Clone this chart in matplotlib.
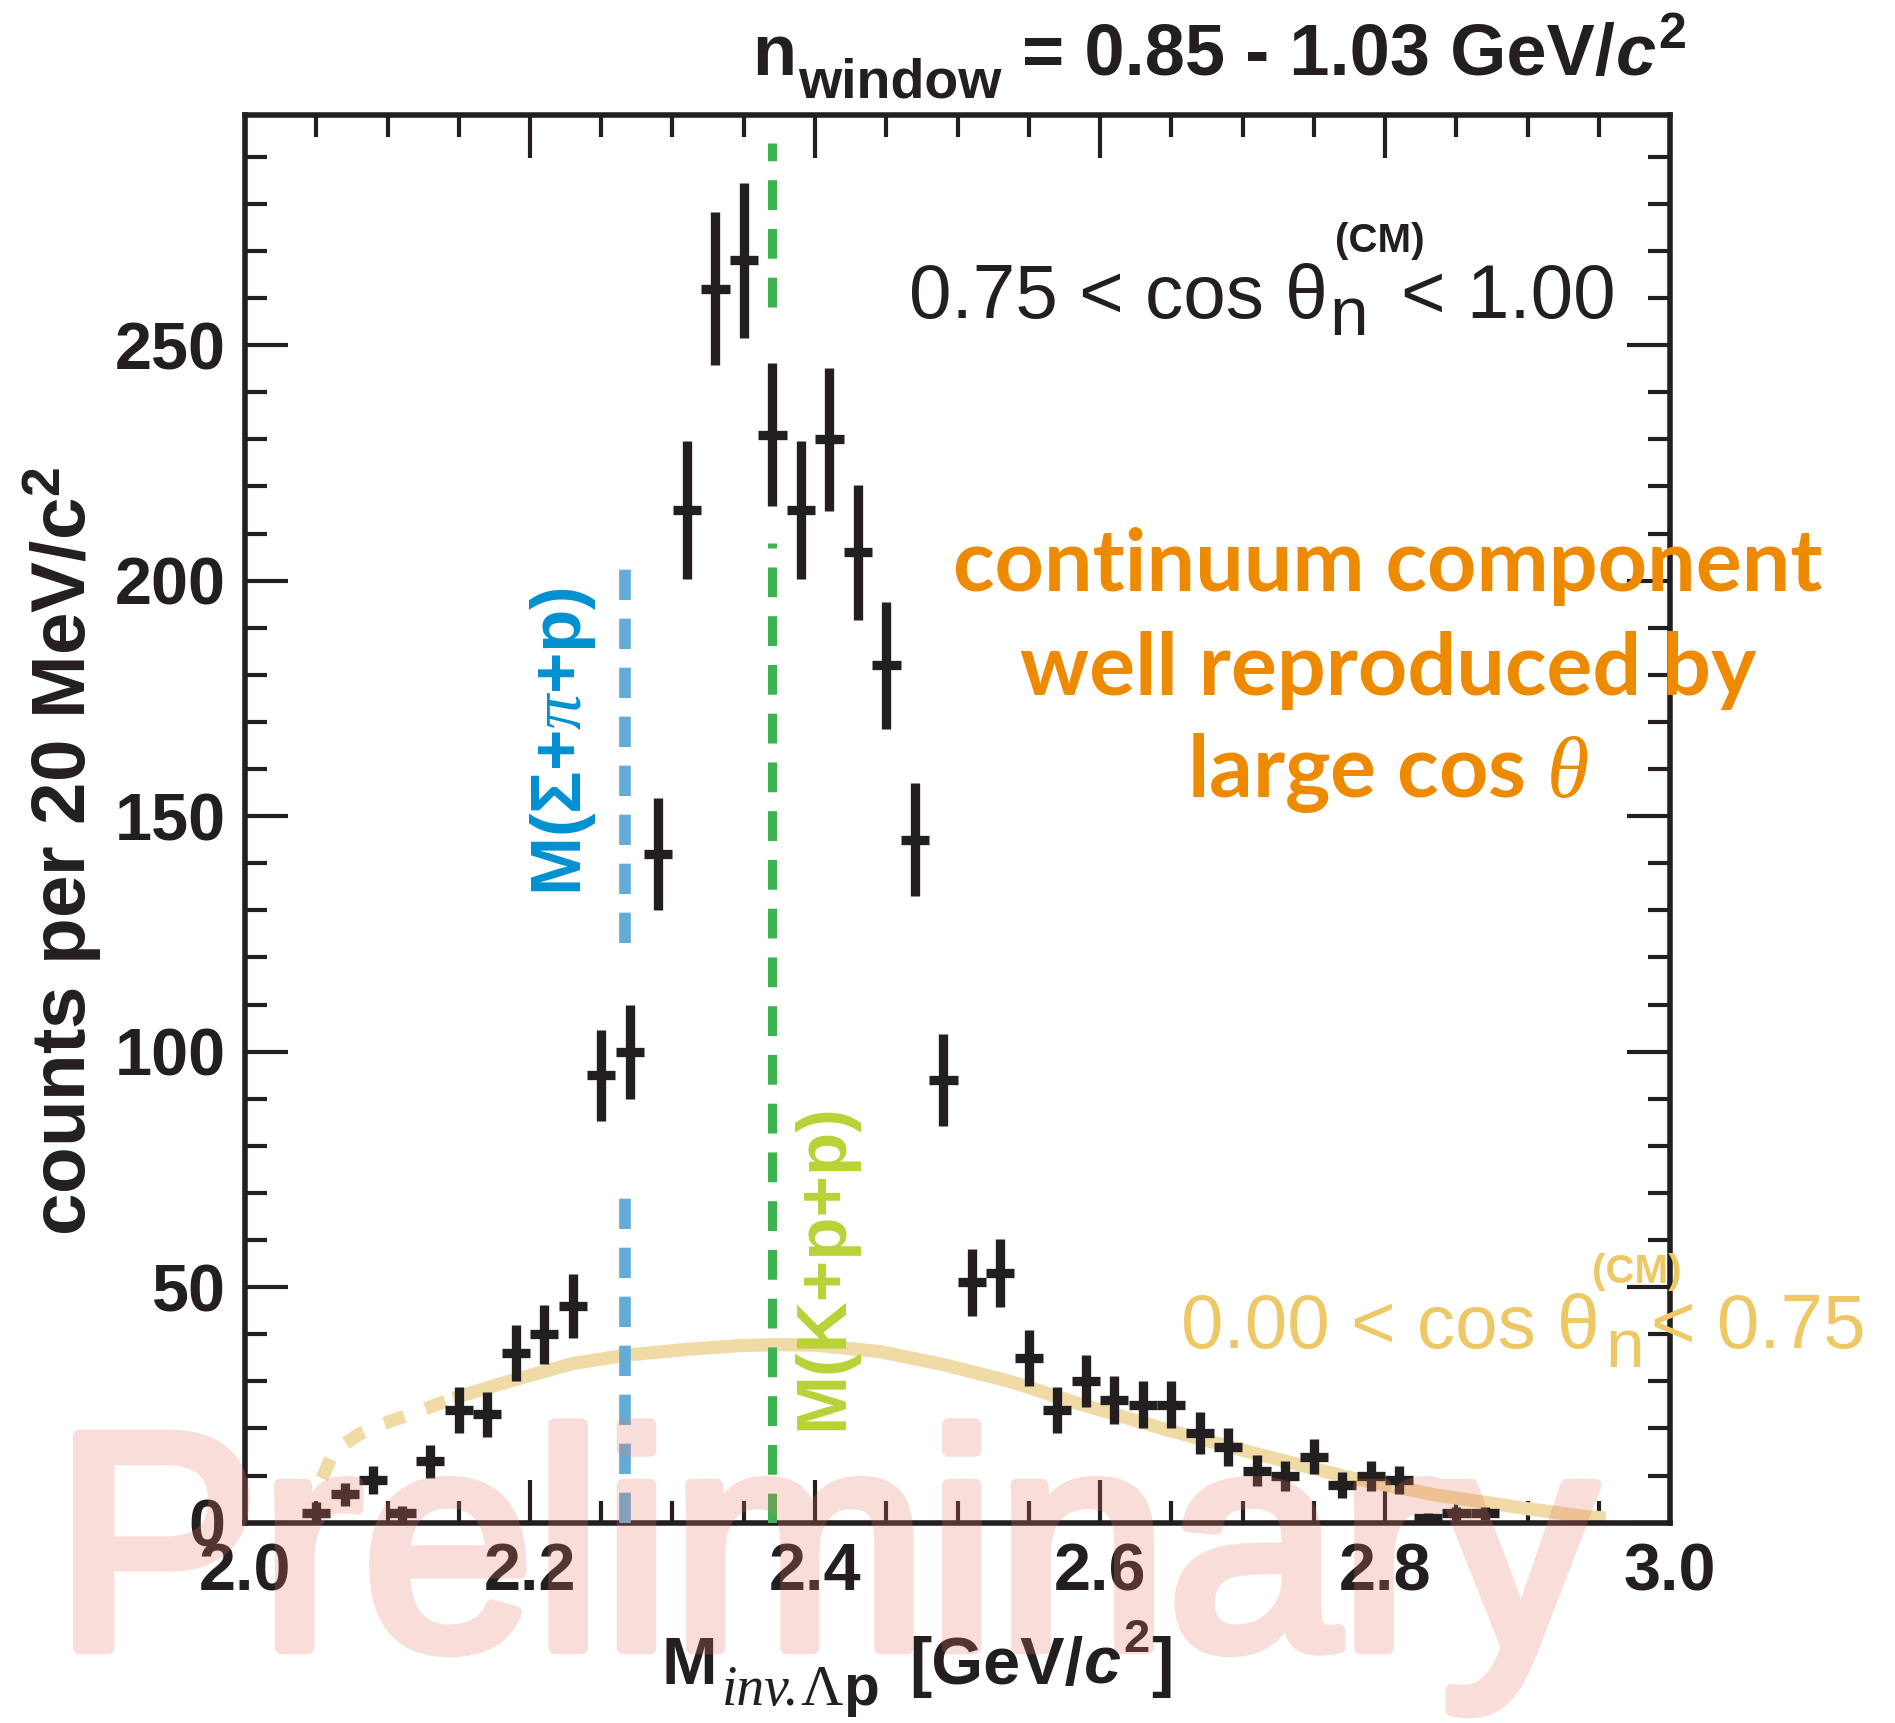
import numpy as np
import matplotlib
matplotlib.use("Agg")
import matplotlib.pyplot as plt
from matplotlib import patheffects as pe
from matplotlib.ticker import MultipleLocator, FormatStrFormatter

# ---------------- data ----------------
mass = [2.05, 2.07, 2.09, 2.11, 2.13, 2.15, 2.17, 2.19, 2.21, 2.23,
        2.25, 2.27, 2.29, 2.31, 2.33, 2.35, 2.37, 2.39, 2.41, 2.43,
        2.45, 2.47, 2.49, 2.51, 2.53, 2.55, 2.57, 2.59, 2.61, 2.63,
        2.65, 2.67, 2.69, 2.71, 2.73, 2.75, 2.77, 2.79, 2.81, 2.83,
        2.85, 2.87]
counts = [2, 6, 9, 2, 13, 24, 23, 36, 40, 46,
          95, 100, 142, 215, 262, 268, 231, 215, 230, 206,
          182, 145, 94, 51, 53, 35, 24, 30, 26, 25,
          25, 19, 16, 11, 10, 14, 8, 10, 9, 1,
          2, 2]
count_err = [2.5, 2.4, 3.0, 1.6, 3.6, 4.9, 4.8, 6.0, 6.3, 6.8,
             9.7, 10.0, 11.9, 14.7, 16.2, 16.4, 15.2, 14.7, 15.2, 14.4,
             13.5, 12.0, 9.7, 7.1, 7.3, 5.9, 4.9, 5.5, 5.1, 5.0,
             5.0, 4.4, 4.0, 3.3, 3.2, 3.7, 2.8, 3.2, 3.0, 1.0,
             1.4, 1.4]
bin_half_width = 0.01

# low-cos(theta) shape (dotted part below ~2.15, solid above)
curve_dash_x = [2.054, 2.060, 2.067, 2.080, 2.094, 2.110, 2.124, 2.146]
curve_dash_y = [9.4, 13.5, 16.1, 18.8, 20.7, 22.4, 23.9, 26.4]
curve_x = [2.146, 2.184, 2.230, 2.268, 2.310, 2.347, 2.373, 2.400, 2.446,
           2.491, 2.538, 2.585, 2.647, 2.709, 2.772, 2.835, 2.897, 2.941, 2.955]
curve_y = [26.4, 29.9, 33.8, 35.6, 36.8, 37.6, 37.8, 37.7, 36.3,
           33.5, 29.9, 25.3, 19.7, 14.7, 9.8, 5.9, 3.1, 1.3, 1.0]

m_sigma_pi_p = 2.267
m_k_p_p = 2.370
sigma_line_segments = [(0, 72), (123, 203)]
kpp_line_segments = [(0, 208), (258, 293)]

x_range = (2.0, 3.0)
y_range = (0, 298.9)

# ---------------- styling ----------------
W, H = 1895, 1723
K = '#231f20'
plt.rcParams['mathtext.fontset'] = 'custom'
plt.rcParams['mathtext.rm'] = 'Liberation Sans:bold'
plt.rcParams['mathtext.bf'] = 'Liberation Sans:bold'
plt.rcParams['mathtext.it'] = 'Liberation Serif:italic'
plt.rcParams['mathtext.sf'] = 'Liberation Sans:bold:italic'
plt.rcParams['font.family'] = ['Liberation Sans', 'DejaVu Sans']

fig = plt.figure(figsize=(W / 100, H / 100), dpi=100)
fig.patch.set_facecolor('white')
ax_left, ax_right, ax_top, ax_bot = 245, 1670, 114.8, 1522.7
ax = fig.add_axes([ax_left / W, 1 - ax_bot / H, (ax_right - ax_left) / W,
                   (ax_bot - ax_top) / H])
ax.set_xlim(*x_range)
ax.set_ylim(*y_range)

# curve
ax.plot(curve_dash_x, curve_dash_y, color='#f0daa5', lw=9.5,
        dashes=(1.6, 1.7), dash_capstyle='butt', zorder=2)
ax.plot(curve_x, curve_y, color='#f0daa5', lw=9.5,
        solid_capstyle='butt', zorder=2)

# threshold lines
for y0, y1 in sigma_line_segments:
    ax.plot([m_sigma_pi_p, m_sigma_pi_p], [y0, y1], color='#64acd7', lw=8.4,
            dashes=(2.6, 1.6), dash_capstyle='butt', zorder=3)
for y0, y1 in kpp_line_segments:
    ax.plot([m_k_p_p, m_k_p_p], [y0, y1], color='#3cb250', lw=6.5,
            dashes=(3.3, 2.1), dash_capstyle='butt', zorder=3)

# data
ax.errorbar(mass, counts, yerr=count_err, xerr=bin_half_width, fmt='none',
            ecolor=K, elinewidth=6.7, capsize=0, zorder=5)

# axes cosmetics
for s in ax.spines.values():
    s.set_linewidth(4)
    s.set_color(K)
ax.xaxis.set_major_locator(MultipleLocator(0.2))
ax.xaxis.set_minor_locator(MultipleLocator(0.05))
ax.yaxis.set_major_locator(MultipleLocator(50))
ax.yaxis.set_minor_locator(MultipleLocator(10))
ax.xaxis.set_major_formatter(FormatStrFormatter('%.1f'))
ax.tick_params(which='both', direction='in', top=True, right=True,
               width=3, color=K)
ax.tick_params(which='major', length=31)
ax.tick_params(which='minor', length=15.5)
ax.tick_params(axis='x', which='major', pad=14, labelsize=48, labelcolor=K)
ax.tick_params(axis='y', which='major', pad=14, labelsize=48, labelcolor=K)
for lab in ax.get_xticklabels() + ax.get_yticklabels():
    lab.set_fontweight('bold')
    lab.set_family('Liberation Sans')

r = fig.canvas.get_renderer()


def put(x, y, s, **kw):
    kw.setdefault('color', K)
    kw.setdefault('family', 'Liberation Sans')
    return fig.text(x / W, 1 - y / H, s, ha='left', va='baseline', **kw)


def xend(t):
    return t.get_window_extent(r).x1


# y label
fig.text(63 / W, 1 - 852 / H, 'counts per 20 MeV/c$^{\\mathbf{2}}$',
         rotation=90, ha='center', va='center', fontsize=55,
         fontweight='bold', color=K, family='Liberation Sans')

# x label
t = put(662, 1684, 'M', fontsize=48, weight='bold')
x = xend(t) + 4
t = put(x, 1705, 'inv.', fontsize=40, family='Liberation Serif', style='italic')
x = xend(t) + 1
t = put(x, 1705, 'Λ', fontsize=42, family='Liberation Serif')
x = xend(t) + 1
t = put(x, 1705, 'p', fontsize=42, weight='bold')
x = xend(t) + 30
t = put(x, 1684, '[GeV/', fontsize=48, weight='bold')
x = xend(t) + 1
t = put(x, 1684, 'c', fontsize=48, weight='bold', style='italic')
x = xend(t) + 2
t = put(x, 1652, '2', fontsize=34, weight='bold')
x = xend(t) + 2
put(x, 1684, ']', fontsize=48, weight='bold')

# title
t = put(752, 75, 'n', fontsize=52, weight='bold')
x = xend(t) + 2
t = put(x, 98, 'window', fontsize=40, weight='bold')
x = xend(t) + 20
t = put(x, 75, '= 0.85 - 1.03 GeV/', fontsize=52, weight='bold')
x = xend(t) + 1
t = put(x, 75, 'c', fontsize=52, weight='bold', style='italic')
x = xend(t) + 3
put(x, 48, '2', fontsize=36, weight='bold')

# 0.75 < cos theta < 1.00
t = put(909, 318, '0.75 < cos θ', fontsize=55)
xn = xend(t) + 2
put(xn, 335, 'n', fontsize=50)
put(xn + 5, 252, '(CM)', fontsize=29, weight='bold')
put(xn + 71, 318, '< 1.00', fontsize=55)

# 0.00 < cos theta < 0.75 (beige)
BEIGE = '#efc866'
t = put(1181, 1348, '0.00 < cos θ', fontsize=55, color=BEIGE)
xn = xend(t) + 6
put(xn, 1367, 'n', fontsize=50, color=BEIGE)
put(xn - 14, 1283, '(CM)', fontsize=29, weight='bold', color=BEIGE)
put(xn + 45, 1348, '< 0.75', fontsize=55, color=BEIGE)

# orange comment
ORANGE = '#ee8a00'
for s, yb in [('continuum component', 591), ('well reproduced by', 695),
              ('large cos $\\theta$', 797)]:
    fig.text(1388 / W, 1 - yb / H, s, ha='center', va='baseline',
             fontsize=62, fontweight='bold', color=ORANGE, family='Lato')

# rotated threshold labels
fig.text(581 / W, 1 - 896 / H, 'M(Σ+$\\pi$+p)', rotation=90,
         rotation_mode='anchor', ha='left', va='baseline', fontsize=51,
         fontweight='bold', color='#0091d2', family='Liberation Sans')
fig.text(842 / W, 1 - 1430 / H, 'M(K+p+p)', rotation=90,
         rotation_mode='anchor', ha='left', va='baseline', fontsize=51,
         fontweight='bold', color='#b9d237', family='Liberation Sans')


# watermark
def fade(im, dpi):
    im = im.copy()
    im[..., 3] *= 0.25
    return im, 0, 0


wm = fig.text(54 / W, 1 - 1648 / H, 'Preliminary', ha='left', va='baseline',
              fontsize=222, color='#e87868', family='Liberation Sans',
              zorder=20)
wm.set_path_effects([pe.Stroke(linewidth=9, foreground='#e87868',
                               joinstyle='round', capstyle='round'),
                     pe.Normal()])
wm.set_agg_filter(fade)

fig.savefig('out.png', dpi=100, facecolor='white')
